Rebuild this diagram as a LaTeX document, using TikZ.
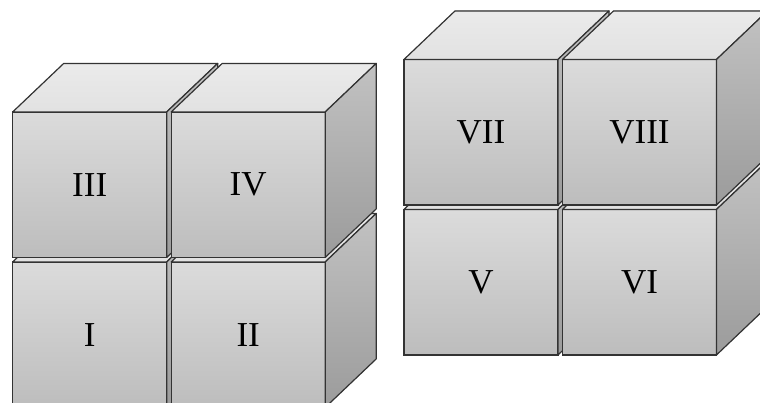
\documentclass[tikz,border=0pt]{standalone}
\usepackage{fontspec}
\setmainfont{Liberation Serif}
\usetikzlibrary{positioning}

\tikzset{
	front/.style={draw=black!80, line width=1.2pt, top color=gray!28, bottom color=gray!52, minimum width=154pt, minimum height=145.5pt, inner sep=0pt, outer sep=0pt, font=\fontsize{35}{40}\selectfont},
	topface/.style={draw=black!80, line width=1.2pt, line join=round, top color=gray!16, bottom color=gray!23},
	sideface/.style={draw=black!80, line width=1.2pt, line join=round, top color=gray!48, bottom color=gray!78},
}

% top and right side of a cube whose front is node #1
\newcommand{\cubeback}[1]{%
	\filldraw[topface] (#1.north west) -- ++(\dx,\dy) -- ++(154,0) -- (#1.north east) -- cycle;
	\filldraw[sideface] (#1.north east) -- ++(\dx,\dy) -- ++(0,145.5) -- (#1.south east) -- cycle;
}

\begin{document}
\begin{tikzpicture}[x=1pt, y=-1pt, node distance=4.5pt]
	\useasboundingbox (0,0) rectangle (760,403);
	\clip (0,0) rectangle (760,403);
	\def\dx{51}
	\def\dy{-48.5}
	
	% left block
	\node[front] (c1) at (89.7,334.7) {I};
	\cubeback{c1}
	\node[front, right=of c1] (c2) {II};
	\cubeback{c2}
	\node[front, above=of c1] (c3) {III};
	\cubeback{c3}
	\node[front, right=of c3] (c4) {IV};
	\cubeback{c4}
	
	% right block
	\node[front] (c5) at (481,282.2) {V};
	\cubeback{c5}
	\node[front, right=of c5] (c6) {VI};
	\cubeback{c6}
	\node[front, above=of c5] (c7) {VII};
	\cubeback{c7}
	\node[front, right=of c7] (c8) {VIII};
	\cubeback{c8}
\end{tikzpicture}
\end{document}
